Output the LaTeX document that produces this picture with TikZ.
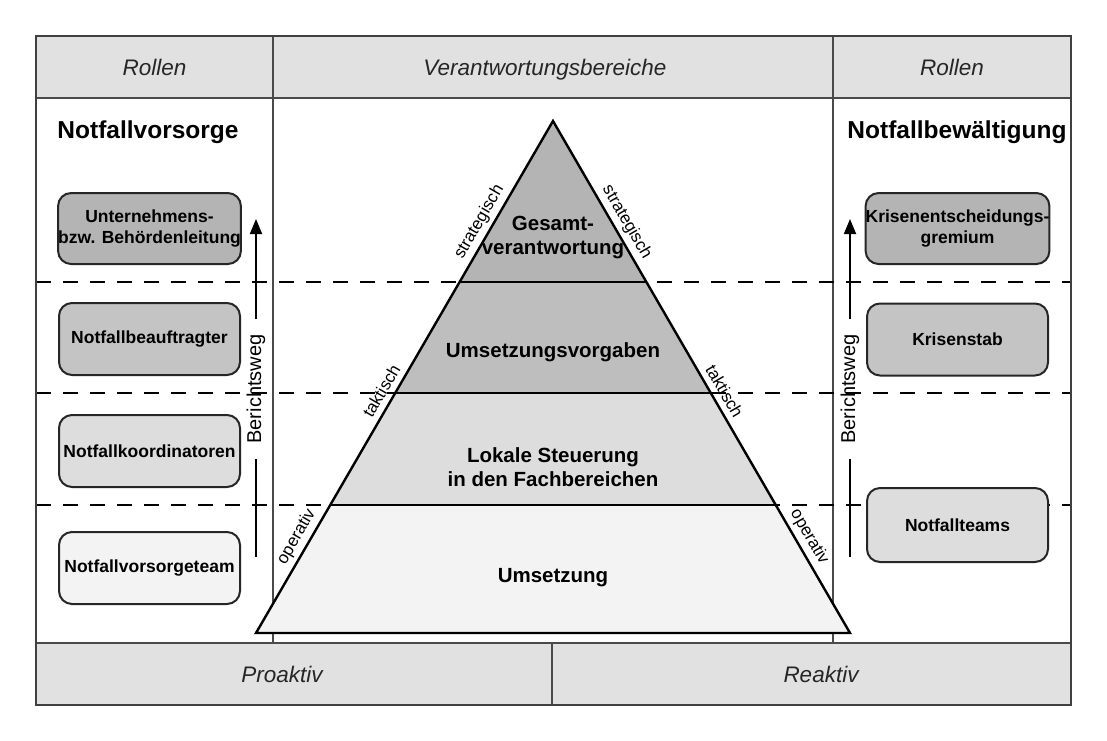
\documentclass[tikz,border=0pt]{standalone}
\usepackage{fontspec}
\setmainfont{Liberation Sans}
\usetikzlibrary{arrows.meta}
\definecolor{hdrfill}{HTML}{E1E1E1}
\definecolor{gA}{HTML}{B4B4B4}
\definecolor{gB}{HTML}{BEBEBE}
\definecolor{gC}{HTML}{DDDDDD}
\definecolor{gD}{HTML}{F3F3F3}
\definecolor{bxB}{HTML}{C4C4C4}
\definecolor{linegray}{HTML}{4A4A4A}
\begin{document}
\begin{tikzpicture}[x=1pt, y=-1pt,
  hdrtext/.style={font=\fontsize{22.5}{26}\selectfont\itshape, text=black!85, anchor=base},
  roletitle/.style={font=\fontsize{24.5}{28}\selectfont\bfseries, anchor=base},
  rolebox/.style={draw=black!85, line width=2pt, rounded corners=13pt, minimum width=181pt,
    minimum height=72pt, inner sep=0pt, align=center, font=\fontsize{17.5}{21.5}\selectfont\bfseries},
  pyrtext/.style={font=\fontsize{20.5}{24}\selectfont\bfseries, align=center},
  edgelabel/.style={font=\fontsize{17}{20}\selectfont, sloped, anchor=center, inner sep=0pt},
  sepline/.style={dash pattern=on 15pt off 12pt, line width=1.8pt},
  divline/.style={draw=linegray, line width=1.1pt},
  reportline/.style={line width=1.8pt},
  reportarrow/.style={line width=1.8pt, -{Triangle[length=15pt,width=12pt]}},
  reportlabel/.style={font=\fontsize{20}{24}\selectfont, rotate=90, inner xsep=15pt, inner ysep=0pt},
  level/.style={line width=2pt},
]
\useasboundingbox[fill=white] (0,0) rectangle (1107,740);
% header and footer bands
\fill[hdrfill] (36,36) rectangle (1071,98);
\fill[hdrfill] (36,643) rectangle (1071,705);
\draw[divline] (36,98) -- (1071,98);
\draw[divline] (36,643) -- (1071,643);
\draw[divline] (273,36) -- (273,643);
\draw[divline] (833,36) -- (833,643);
\draw[divline] (552,643) -- (552,705);
% dashed separators
\foreach \yy in {282,393,505} {\draw[sepline] (36,\yy) -- (1071,\yy);}
% report arrows
\coordinate (lbot) at (256,557); \coordinate (ltop) at (256,219);
\coordinate (rbot) at (850,557); \coordinate (rtop) at (850,219);
\node[reportlabel] (lbw) at (256,389) {Berichtsweg};
\node[reportlabel] (rbw) at (850,389) {Berichtsweg};
\draw[reportline] (lbot) -- (lbw.west);
\draw[reportarrow] (lbw.east) -- (ltop);
\draw[reportline] (rbot) -- (rbw.west);
\draw[reportarrow] (rbw.east) -- (rtop);
% pyramid
\coordinate (A) at (553,121);
\coordinate (BL) at (256,633);
\coordinate (BR) at (850,633);
\coordinate (l1) at (459.6,282); \coordinate (r1) at (646.4,282);
\coordinate (l2) at (395.2,393); \coordinate (r2) at (710.8,393);
\coordinate (l3) at (330.25,505); \coordinate (r3) at (775.75,505);
\fill[gA] (A) -- (r1) -- (l1) -- cycle;
\fill[gB] (l1) -- (r1) -- (r2) -- (l2) -- cycle;
\fill[gC] (l2) -- (r2) -- (r3) -- (l3) -- cycle;
\fill[gD] (l3) -- (r3) -- (BR) -- (BL) -- cycle;
\draw[level] (l1) -- (r1);
\draw[level] (l2) -- (r2);
\draw[level] (l3) -- (r3);
\draw[line width=2.4pt, line join=miter] (A) -- (BR) -- (BL) -- cycle;
% edge labels on paths parallel to the pyramid sides, offset outward
\coordinate (oBL) at (244.7,626.5);
\coordinate (oAL) at (541.7,114.5);
\coordinate (oAR) at (564.3,114.5);
\coordinate (oBR) at (861.3,626.5);
\path (oBL) -- (oAL)
  node[edgelabel, pos=0.79] (lstr) {strategisch}
  node[edgelabel, pos=0.46] (ltak) {taktisch}
  node[edgelabel, pos=0.175] (lop) {operativ};
\path (oAR) -- (oBR)
  node[edgelabel, pos=0.21] (rstr) {strategisch}
  node[edgelabel, pos=0.54] (rtak) {taktisch}
  node[edgelabel, pos=0.825] (rop) {operativ};
\node[pyrtext] (t1) at (553,238) {Gesamt-\\verantwortung};
\node[pyrtext] (t2) at (553,352) {Umsetzungsvorgaben};
\node[pyrtext] (t3) at (553,467) {Lokale Steuerung\\in den Fachbereichen};
\node[pyrtext] (t4) at (553,578) {Umsetzung};
% role boxes
\node[rolebox, fill=gA, minimum height=71pt] (b1) at (149.5,228.5) {Unternehmens-\\bzw. Behördenleitung};
\node[rolebox, fill=bxB] (b2) at (149.5,339) {Notfallbeauftragter};
\node[rolebox, fill=gC] (b3) at (149.5,451) {Notfallkoordinatoren};
\node[rolebox, fill=gD] (b4) at (149.5,568) {Notfallvorsorgeteam};
\node[rolebox, fill=gA, minimum height=71pt] (c1) at (957.5,228.5) {Krisenentscheidungs-\\gremium};
\node[rolebox, fill=bxB] (c2) at (957.5,339.5) {Krisenstab};
\node[rolebox, fill=gC, minimum height=74pt] (c3) at (957.5,525) {Notfallteams};
% titles
\node[roletitle] (lt) at (148,138) {Notfallvorsorge};
\node[roletitle] (rt) at (957,138) {Notfallbewältigung};
\node[hdrtext] (h1) at (154.5,75) {Rollen};
\node[hdrtext] (h2) at (545,75) {Verantwortungsbereiche};
\node[hdrtext] (h3) at (952,75) {Rollen};
\node[hdrtext] (f1) at (282,682) {Proaktiv};
\node[hdrtext] (f2) at (821,682) {Reaktiv};
% outer frame
\draw[draw=black!75, line width=1.6pt] (36,36) rectangle (1071,705);
\end{tikzpicture}
\end{document}
